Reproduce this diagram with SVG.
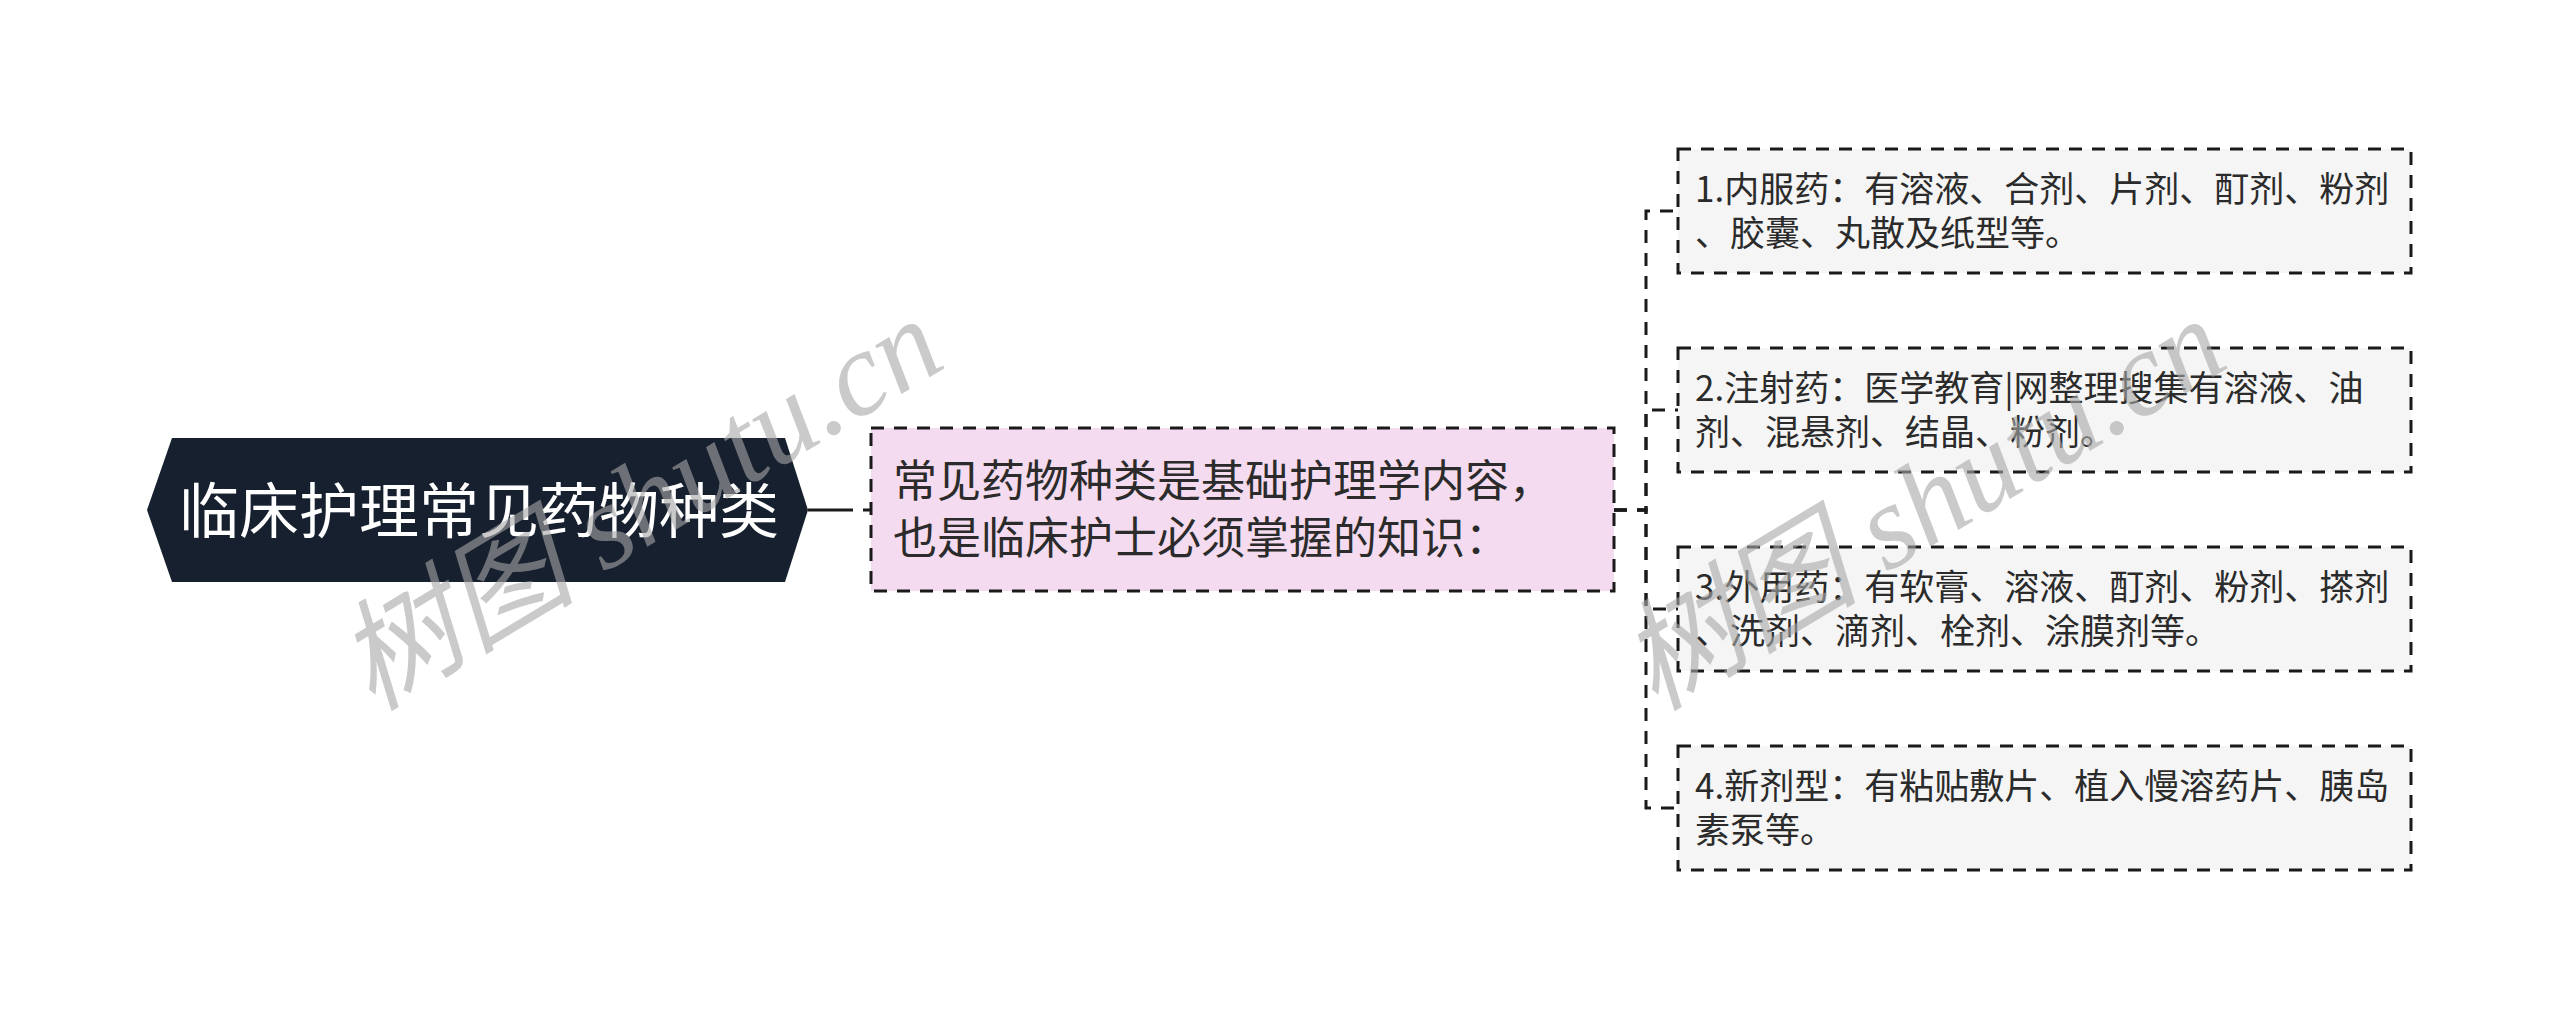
<svg xmlns="http://www.w3.org/2000/svg" width="2560" height="1021" viewBox="0 0 2560 1021">
  <style>
    .txt { font-family: "Noto Sans CJK SC", "Noto Sans", sans-serif; }
    .root-t { fill: #ffffff; font-size: 60px; }
    .mid-t { fill: #2b2b2b; font-size: 44px; }
    .leaf-t { fill: #2b2b2b; font-size: 35px; }
    .box { stroke: #1a1a1a; stroke-width: 3; stroke-dasharray: 13 10; }
    .mid { fill: #f5dbef; }
    .leaf { fill: #f5f5f5; }
    .conn { fill: none; stroke: #1a1a1a; stroke-width: 3; stroke-dasharray: 13 10; }
    .wm { font-family: "Liberation Serif", "Noto Sans CJK SC", serif; font-style: italic; font-size: 120px; fill: #a8a8a8; opacity: 0.6; }
  </style>
  <rect width="2560" height="1021" fill="#ffffff"/>

  <g id="connectors">
    <path d="M808,510 H871" fill="none" stroke="#1a1a1a" stroke-width="3" stroke-dasharray="45 10"/>
    <path class="conn" d="M1614,510 H1646 V211 H1678"/>
    <path class="conn" d="M1614,510 H1646 V410 H1678"/>
    <path class="conn" d="M1614,510 H1646 V609 H1678"/>
    <path class="conn" d="M1614,510 H1646 V808 H1678"/>
  </g>

  <g id="root">
    <polygon points="147,510 172,438 785,438 808,510 785,582 172,582" fill="#16202e"/>
    <text class="txt root-t" x="479" y="533" text-anchor="middle">临床护理常见药物种类</text>
  </g>

  <g id="mid">
    <rect class="box mid" x="871" y="428" width="743" height="163"/>
    <text class="txt mid-t" x="893" y="497">常见药物种类是基础护理学内容，</text>
    <text class="txt mid-t" x="893" y="554">也是临床护士必须掌握的知识：</text>
  </g>

  <g id="leaf1">
    <rect class="box leaf" x="1678" y="149" width="733" height="124"/>
    <text class="txt leaf-t" x="1695" y="202">1.内服药：有溶液、合剂、片剂、酊剂、粉剂</text>
    <text class="txt leaf-t" x="1695" y="246">、胶囊、丸散及纸型等。</text>
  </g>

  <g id="leaf2">
    <rect class="box leaf" x="1678" y="348" width="733" height="124"/>
    <text class="txt leaf-t" x="1695" y="401">2.注射药：医学教育|网整理搜集有溶液、油</text>
    <text class="txt leaf-t" x="1695" y="445">剂、混悬剂、结晶、粉剂。</text>
  </g>

  <g id="leaf3">
    <rect class="box leaf" x="1678" y="547" width="733" height="124"/>
    <text class="txt leaf-t" x="1695" y="600">3.外用药：有软膏、溶液、酊剂、粉剂、搽剂</text>
    <text class="txt leaf-t" x="1695" y="644">、洗剂、滴剂、栓剂、涂膜剂等。</text>
  </g>

  <g id="leaf4">
    <rect class="box leaf" x="1678" y="746" width="733" height="124"/>
    <text class="txt leaf-t" x="1695" y="799">4.新剂型：有粘贴敷片、植入慢溶药片、胰岛</text>
    <text class="txt leaf-t" x="1695" y="843">素泵等。</text>
  </g>

  <g id="watermarks">
    <text class="wm" transform="translate(372,712) rotate(-31)">树图 shutu.cn</text>
    <text class="wm" transform="translate(1655,712) rotate(-31)">树图 shutu.cn</text>
  </g>
</svg>
